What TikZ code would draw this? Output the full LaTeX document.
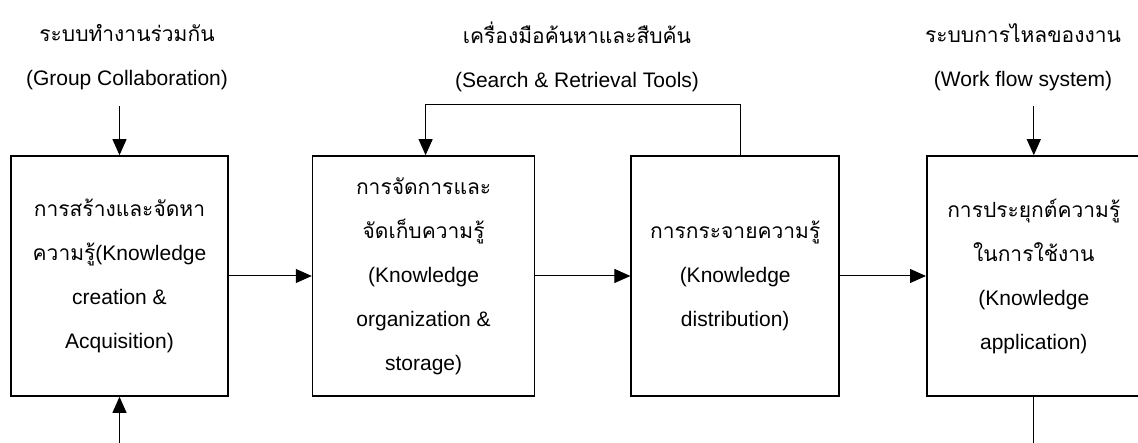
\documentclass[tikz,border=0pt]{standalone}
\usepackage{fontspec}
\setmainfont{Liberation Sans}
\newfontfamily\thaifont[Script=Thai]{Loma}
\usetikzlibrary{positioning,arrows.meta}

\begin{document}
\begin{tikzpicture}[x=1pt, y=1pt,
    every node/.style={font=\fontsize{21}{44}\selectfont, align=center},
    kbox/.style={draw, line width=1.6pt, minimum height=240pt, inner sep=0pt},
    arr/.style={line width=1pt, -{Triangle[length=16pt,width=14pt]}}]
    \useasboundingbox (0,0) rectangle (1138,443);
    \coordinate (base) at (0,0);
    \node[kbox, minimum width=217pt] (create) at (119.5,167)
        {{\thaifont การสร้างและจัดหา}\\{\thaifont ความรู้}(Knowledge\\creation \&\\Acquisition)};
    \node[kbox, minimum width=222pt, right=83pt of create] (organize)
        {{\thaifont การจัดการและ}\\{\thaifont จัดเก็บความรู้}\\(Knowledge\\organization \&\\storage)};
    \node[kbox, minimum width=208pt, right=95pt of organize] (distribute)
        {{\thaifont การกระจายความรู้}\\(Knowledge\\distribution)};
    \node[kbox, minimum width=214pt, right=86pt of distribute] (apply)
        {{\thaifont การประยุกต์ความรู้}\\{\thaifont ในการใช้งาน}\\(Knowledge\\application)};
    \node (collab) at (127,386) {{\thaifont ระบบทำงานร่วมกัน}\\(Group Collaboration)};
    \node (search) at (577,386) {{\thaifont เครื่องมือค้นหาและสืบค้น}\\(Search \& Retrieval Tools)};
    \node (workflow) at (1023,386) {{\thaifont ระบบการไหลของงาน}\\(Work flow system)};
    \path (create.north) ++ (0,49) coordinate (collabin);
    \path (apply.north) ++ (0,49) coordinate (workflowin);
    \coordinate (createin) at (create.south |- base);
    \coordinate (applyout) at (apply.south |- base);
    \draw[arr] (collabin) -- (create);
    \draw[arr] (workflowin) -- (apply);
    \draw[arr] (createin) -- (create);
    \draw[line width=1pt] (apply) -- (applyout);
    \draw[arr] (create) -- (organize);
    \draw[arr] (organize) -- (distribute);
    \draw[arr] (distribute) -- (apply);
    \draw[arr] ([xshift=5pt]distribute.north) -- ++(0,51) -| ([xshift=2pt]organize.north);
\end{tikzpicture}
\end{document}
